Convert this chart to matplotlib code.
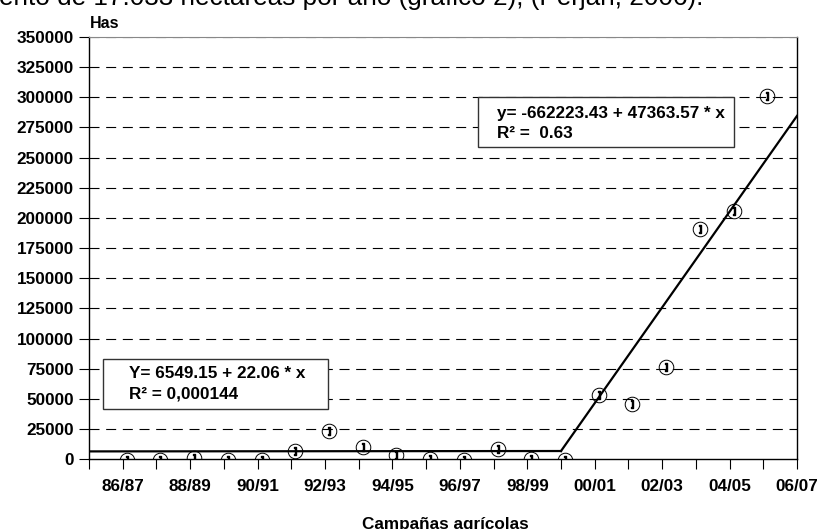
import numpy as np
import matplotlib
matplotlib.use("Agg")
import matplotlib.pyplot as plt
import matplotlib.transforms as mtransforms
from matplotlib.patches import Rectangle

plt.rcParams['font.family'] = ['Liberation Sans', 'DejaVu Sans']

# datos ----------------------------------------------------------------------
campanas = ["86/87", "87/88", "88/89", "89/90", "90/91", "91/92", "92/93",
            "93/94", "94/95", "95/96", "96/97", "97/98", "98/99", "99/00",
            "00/01", "01/02", "02/03", "03/04", "04/05", "05/06", "06/07"]
hectareas = [0, 0, 2200, 0, 600, 7500, 24000, 11000, 4700, 1100, 600,
             9700, 1400, 0, 54500, 47000, 77500, 191500, 206600, 302000]

# tramos de tendencia
tramo1_x = [0, 14]
tramo1_y = [6549.15, 6549.15 + 22.06 * 14]
tramo2_x = [14, 21]
tramo2_y = [6549.15 + 22.06 * 14, 284600]

eq1 = "Y= 6549.15 + 22.06 * x\nR² = 0,000144"
eq2 = "y= -662223.43 + 47363.57 * x\nR² =  0.63"
texto_sup = "ento de 17.033 hectareas por año (gráfico 2), (Perján, 2006)."

yticks = np.arange(0, 350001, 25000)

# figura ---------------------------------------------------------------------
W, H = 822, 529
fig = plt.figure(figsize=(W / 100, H / 100), dpi=100)

def fx(px): return px / W
def fy(py): return 1 - py / H

ax = fig.add_axes([fx(89), fy(459.3), fx(797) - fx(89), fy(37) - fy(459.3)])

x = np.arange(1, len(hectareas) + 1)

ax.plot(tramo1_x, tramo1_y, color='black', lw=1.6, zorder=3)
ax.plot(tramo2_x, tramo2_y, color='black', lw=1.6, zorder=3)

# los simbolos del original estan algo corridos a la derecha
desplaz = ax.transData + mtransforms.ScaledTranslation(4 / 100, -1 / 100,
                                                        fig.dpi_scale_trans)
ax.plot(x, hectareas, ls='none', marker='o', ms=10.5, mfc='none',
        mec='black', mew=0.7, zorder=4, transform=desplaz)
ax.plot(x, hectareas, ls='none', marker=r'$\mathbf{]}$', ms=6,
        color='black', zorder=5, transform=desplaz)

ax.set_xlim(0, 21)
ax.set_ylim(0, 350000)
ax.set_yticks(yticks)
ax.set_yticklabels([str(v) for v in yticks])
ax.set_xticks(np.arange(0, 22))
ax.set_xticklabels([""] + [c if i % 2 == 0 else "" for i, c in enumerate(campanas)])

for t in yticks[1:]:
    ax.axhline(t, color='black', lw=0.8, dashes=(9, 6), zorder=1)

ax.tick_params(axis='both', direction='out', length=7.5, width=0.8,
               labelsize=12.3, colors='black')
ax.tick_params(axis='x', pad=7)
for lab in ax.get_xticklabels() + ax.get_yticklabels():
    lab.set_fontweight('bold')

for s in ['left', 'right', 'bottom']:
    ax.spines[s].set_linewidth(1.0)
    ax.spines[s].set_color('black')
ax.spines['top'].set_color('#888888')
ax.spines['top'].set_linewidth(0.8)

# cuadros de ecuaciones
fig.patches.append(Rectangle((fx(102.7), fy(409.3)), fx(328.3) - fx(102.7),
                             fy(359) - fy(409.3), transform=fig.transFigure,
                             facecolor='white', edgecolor='#333333', lw=1.0,
                             zorder=6))
fig.text(fx(129), fy(366), eq1, fontsize=12.3, fontweight='bold', va='top',
         ha='left', linespacing=1.45, zorder=7)
fig.patches.append(Rectangle((fx(478.3), fy(146.7)), fx(734.3) - fx(478.3),
                             fy(96.7) - fy(146.7), transform=fig.transFigure,
                             facecolor='white', edgecolor='#333333', lw=1.0,
                             zorder=6))
fig.text(fx(496.7), fy(106), eq2, fontsize=12.3, fontweight='bold', va='top',
         ha='left', linespacing=1.45, zorder=7)

fig.text(fx(90), fy(23), "Has", fontsize=11.5, fontweight='bold',
         va='center', ha='left')
fig.text(fx(445), fy(524), "Campañas agrícolas", fontsize=12.3,
         fontweight='bold', va='center', ha='center')
fig.text(fx(703), fy(5), texto_sup, fontsize=18.8, va='baseline', ha='right')

fig.savefig("out.png", dpi=100)
